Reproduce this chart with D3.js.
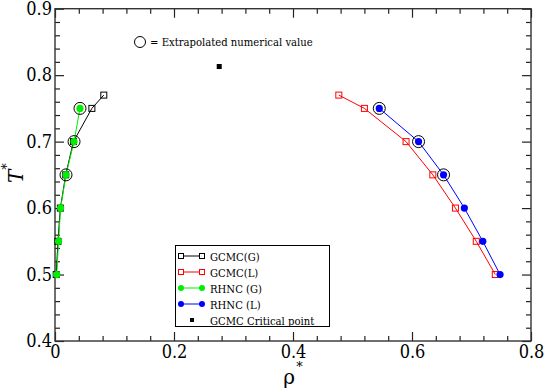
<!DOCTYPE html>
<html>
<head>
<meta charset="utf-8">
<script src="https://cdn.jsdelivr.net/npm/d3@7"></script>
<style>
  body { margin: 0; background: #fff; }
</style>
</head>
<body>
<script>
// ---- data ----
var rhoTicks = [0, 0.2, 0.4, 0.6, 0.8];
var tTicks = [0.4, 0.5, 0.6, 0.7, 0.8, 0.9];

var gcmcT      = [0.77, 0.75, 0.70, 0.65, 0.60, 0.55, 0.50];
var gcmcGasRho = [0.082, 0.062, 0.031, 0.018, 0.009, 0.005, 0.002];
var gcmcLiqRho = [0.477, 0.520, 0.590, 0.635, 0.673, 0.708, 0.740];

var rhncT      = [0.75, 0.70, 0.65, 0.60, 0.55, 0.50];
var rhncGasRho = [0.042, 0.032, 0.0185, 0.0095, 0.006, 0.003];
var rhncLiqRho = [0.545, 0.611, 0.653, 0.688, 0.719, 0.748];

var extrapolatedT = [0.75, 0.70, 0.65];   // circled RHNC points
var criticalRho = 0.276, criticalT = 0.813;

var legendNames = ["GCMC(G)", "GCMC(L)", "RHNC (G)", "RHNC (L)", "GCMC Critical point"];

var W = 545, H = 389;
var SERIF = "'DejaVu Serif', serif";
var NARROW = "'DejaVu Serif Condensed', 'DejaVu Serif', serif";
var GREEN = "#00ee00", BLUE = "#0000ff", RED = "#ff0000";

var svg = d3.select("body").append("svg")
    .attr("width", W).attr("height", H)
    .style("font-family", SERIF);

var x = d3.scaleLinear().domain([0, 0.8]).range([55, 531]);
var y = d3.scaleLinear().domain([0.4, 0.9]).range([341, 8.7]);

var minorX = d3.range(0, 0.8001, 0.04).filter(function(v) { return Math.abs(v / 0.2 - Math.round(v / 0.2)) > 1e-6; });
var minorY = d3.range(0.4, 0.9001, 0.02).filter(function(v) { return Math.abs(v / 0.1 - Math.round(v / 0.1)) > 1e-6; });

/* ticks on all four sides, pointing inwards */
function tickAxis(axis, vals, size, tx, ty) {
    var g = svg.append("g")
        .attr("transform", "translate(" + tx + "," + ty + ")")
        .call(axis.tickValues(vals).tickSize(size).tickFormat(""));
    g.select(".domain").remove();
    g.selectAll("line").attr("stroke", "#222").attr("stroke-width", 1.2);
    return g;
}
tickAxis(d3.axisBottom(x), rhoTicks, -9, 0, 341);
tickAxis(d3.axisBottom(x), minorX, -5, 0, 341);
tickAxis(d3.axisTop(x), rhoTicks, -9, 0, 8.7);
tickAxis(d3.axisTop(x), minorX, -5, 0, 8.7);
tickAxis(d3.axisLeft(y), tTicks, -9, 55, 0);
tickAxis(d3.axisLeft(y), minorY, -5, 55, 0);
tickAxis(d3.axisRight(y), tTicks, -9, 531, 0);
tickAxis(d3.axisRight(y), minorY, -5, 531, 0);

// tick labels
var xl = svg.append("g").attr("transform", "translate(0,341)")
    .call(d3.axisBottom(x).tickValues(rhoTicks).tickSize(0).tickPadding(4)
        .tickFormat(function(d) { return d === 0 ? "0" : d3.format(".1f")(d); }));
xl.select(".domain").remove();
xl.selectAll("text").attr("fill", "#000").style("font-family", NARROW).style("font-size", "18px");

var yl = svg.append("g").attr("transform", "translate(55,0)")
    .call(d3.axisLeft(y).tickValues(tTicks).tickSize(0).tickPadding(3)
        .tickFormat(d3.format(".1f")));
yl.select(".domain").remove();
yl.selectAll("text").attr("fill", "#000").style("font-family", NARROW).style("font-size", "18px");

// frame
svg.append("rect")
    .attr("x", 55).attr("y", 8.7)
    .attr("width", 476).attr("height", 341 - 8.7)
    .attr("fill", "none").attr("stroke", "#333").attr("stroke-width", 1.4);

// axis titles
var xt = svg.append("text").attr("x", 293).attr("y", 384)
    .attr("text-anchor", "middle").style("font-size", "20px");
xt.append("tspan").text("ρ");
xt.append("tspan").attr("dx", 1).attr("dy", -13).style("font-size", "13px").text("*");

var yt = svg.append("text")
    .attr("transform", "translate(23,183) rotate(-90)")
    .style("font-size", "20px");
yt.append("tspan").attr("font-style", "italic").text("T");
yt.append("tspan").attr("dy", -12).style("font-size", "13px").text("*");

// ---- series ----
var line = d3.line().x(function(d) { return x(d[0]); }).y(function(d) { return y(d[1]); });
function pairs(rho, t) { return rho.map(function(r, i) { return [r, t[i]]; }); }

function squareSeries(pts, color) {
    svg.append("path").datum(pts).attr("d", line)
        .attr("fill", "none").attr("stroke", color).attr("stroke-width", 1);
    svg.append("g").selectAll("rect").data(pts).enter().append("rect")
        .attr("x", function(d) { return x(d[0]) - 3; })
        .attr("y", function(d) { return y(d[1]) - 3; })
        .attr("width", 6).attr("height", 6)
        .attr("fill", "none").attr("stroke", color).attr("stroke-width", 1);
}
function dotSeries(pts, color) {
    svg.append("path").datum(pts).attr("d", line)
        .attr("fill", "none").attr("stroke", color).attr("stroke-width", 1);
    svg.append("g").selectAll("circle").data(pts).enter().append("circle")
        .attr("cx", function(d) { return x(d[0]); })
        .attr("cy", function(d) { return y(d[1]); })
        .attr("r", 3.6).attr("fill", color);
}

squareSeries(pairs(gcmcGasRho, gcmcT), "#000");
squareSeries(pairs(gcmcLiqRho, gcmcT), RED);
dotSeries(pairs(rhncGasRho, rhncT), GREEN);
dotSeries(pairs(rhncLiqRho, rhncT), BLUE);

// extrapolated markers
var extra = [];
extrapolatedT.forEach(function(t) {
    var i = rhncT.indexOf(t);
    extra.push([rhncGasRho[i], t]);
    extra.push([rhncLiqRho[i], t]);
});
svg.append("g").selectAll("circle").data(extra).enter().append("circle")
    .attr("cx", function(d) { return x(d[0]); })
    .attr("cy", function(d) { return y(d[1]); })
    .attr("r", 6).attr("fill", "none").attr("stroke", "#000").attr("stroke-width", 1);

// critical point
svg.append("rect")
    .attr("x", x(criticalRho) - 2.5).attr("y", y(criticalT) - 2.5)
    .attr("width", 5).attr("height", 5).attr("fill", "#000");

// annotation
svg.append("circle").attr("cx", 140).attr("cy", 42).attr("r", 5.5)
    .attr("fill", "none").attr("stroke", "#000").attr("stroke-width", 1);
svg.append("text").attr("x", 150).attr("y", 46).style("font-family", NARROW)
    .style("font-size", "11.2px")
    .text("= Extrapolated numerical value");

// ---- legend ----
var lg = svg.append("g");
lg.append("rect").attr("x", 175.5).attr("y", 245.5).attr("width", 154).attr("height", 81)
    .attr("fill", "#fff").attr("stroke", "#000").attr("stroke-width", 1);
var legendStyle = [
    { color: "#000", kind: "square" },
    { color: RED, kind: "square" },
    { color: GREEN, kind: "dot" },
    { color: BLUE, kind: "dot" },
    { color: "#000", kind: "point" }
];
legendNames.forEach(function(name, i) {
    var yy = 256 + i * 16, s = legendStyle[i];
    if (s.kind !== "point") {
        lg.append("line").attr("x1", 181).attr("x2", 202).attr("y1", yy).attr("y2", yy)
            .attr("stroke", s.color).attr("stroke-width", 1);
        [181, 202].forEach(function(cx) {
            if (s.kind === "square") {
                lg.append("rect").attr("x", cx - 2.5).attr("y", yy - 2.5)
                    .attr("width", 5).attr("height", 5)
                    .attr("fill", "#fff").attr("stroke", s.color).attr("stroke-width", 1);
            } else {
                lg.append("circle").attr("cx", cx).attr("cy", yy).attr("r", 3)
                    .attr("fill", s.color);
            }
        });
    } else {
        lg.append("rect").attr("x", 190).attr("y", yy - 2).attr("width", 4).attr("height", 4)
            .attr("fill", "#000");
    }
    lg.append("text").attr("x", 210).attr("y", yy + 4.5).style("font-family", NARROW)
        .style("font-size", "11.2px").text(name);
});
</script>
</body>
</html>
